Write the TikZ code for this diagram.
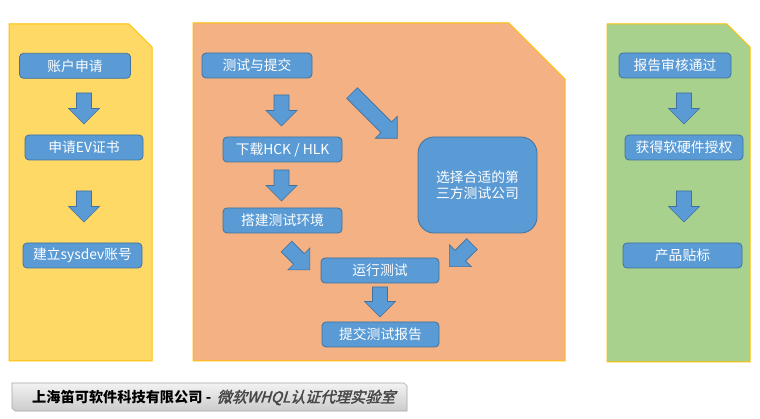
\documentclass[tikz,border=0pt]{standalone}
\usepackage{fontspec}
\usetikzlibrary{calc}
\setmainfont{Noto Sans CJK SC}
\newfontfamily\slantfont[FakeSlant=0.3,FakeBold=2]{Noto Sans CJK SC}
\definecolor{boxblue}{HTML}{5B9BD5}
\definecolor{boxedge}{HTML}{41719C}
\definecolor{panely}{HTML}{FFD966}
\definecolor{panelo}{HTML}{F4B183}
\definecolor{panelg}{HTML}{A9D18E}
\definecolor{panelline}{HTML}{FFC000}
\tikzset{
  stepbox/.style={draw=boxedge, fill=boxblue, rounded corners=4pt, line width=0.8pt,
    text=white, font=\fontsize{13.8}{16.5}\selectfont, inner sep=0pt,
    minimum height=25pt, align=center},
  panel/.style={draw=panelline, line width=1pt},
  blockarrow/.style={fill=boxblue, draw=boxedge, line width=0.6pt},
}
\newcommand\barrow[4]{%
  \begin{scope}[shift={(#1,#2)}, rotate=#3]
    \path[blockarrow] (0,-7.5) -- ({#4-15.5},-7.5) -- ({#4-15.5},-15.5) -- (#4,0)
      -- ({#4-15.5},15.5) -- ({#4-15.5},7.5) -- (0,7.5) -- cycle;
  \end{scope}}
\begin{document}
\begin{tikzpicture}[x=1pt,y=-1pt]
\useasboundingbox[fill=white] (0,0) rectangle (760,419);
% panels
\path[panel, fill=panely] (9,24) -- (129,24) -- (152,47) -- (152,361) -- (9,361) -- cycle;
\path[panel, fill=panelo] (193,23) -- (509,23) -- (565,79) -- (565,361) -- (193,361) -- cycle;
\path[panel, fill=panelg] (607,24) -- (727,24) -- (750,47) -- (750,362) -- (607,362) -- cycle;
% left column
\node[stepbox, minimum width=111pt] (a1) at (75,65.8) {账户申请};
\node[stepbox, minimum width=118pt] (a2) at (84,147.5) {申请EV证书};
\node[stepbox, minimum width=119pt] (a3) at (82.5,255.5) {建立sysdev账号};
\barrow{84}{93}{-90}{31}
\barrow{84}{191}{-90}{31}
% middle
\node[stepbox, minimum width=110pt] (b1) at (257,65.5) {测试与提交};
\node[stepbox, minimum width=119pt] (b2) at (282.5,149.5) {下载HCK / HLK};
\node[stepbox, minimum width=119pt] (b3) at (282.5,220.5) {搭建测试环境};
\node[stepbox, minimum width=119pt, minimum height=96pt, rounded corners=16pt] (b4) at (477.5,185) {选择合适的第\\三方测试公司};
\node[stepbox, minimum width=118pt] (b5) at (380,270.5) {运行测试};
\node[stepbox, minimum width=117pt] (b6) at (380.5,334.5) {提交测试报告};
\barrow{281.5}{95}{-90}{31}
\barrow{281.5}{170}{-90}{31}
\barrow{352}{93}{-45}{64}
\barrow{286.5}{246.5}{-45}{33}
\barrow{472}{244}{-135}{32}
\barrow{380}{287}{-90}{30}
% right
\node[stepbox, minimum width=112pt] (c1) at (675,65.5) {报告审核通过};
\node[stepbox, minimum width=118pt] (c2) at (684,147.5) {获得软硬件授权};
\node[stepbox, minimum width=119pt] (c3) at (682.5,255.5) {产品贴标};
\barrow{684}{93}{-90}{31}
\barrow{684}{191}{-90}{31}
% banner
\path[top color=gray!10, bottom color=gray!40, draw=gray!70, line width=0.6pt]
  (12,383) -- (404,383) -- (407,386) -- (407,411) -- (15,411) -- (12,408) -- cycle;
\node[anchor=west, inner sep=0pt, font=\fontsize{14.2}{16}\selectfont\bfseries] (t1) at (32,397.5) {上海笛可软件科技有限公司 -};
\node[anchor=west, inner sep=0pt, font=\fontsize{15}{16}\slantfont, text=gray!55!black] (t2) at ($(t1.east)+(5,0)$) {微软WHQL认证代理实验室};
\end{tikzpicture}
\end{document}
